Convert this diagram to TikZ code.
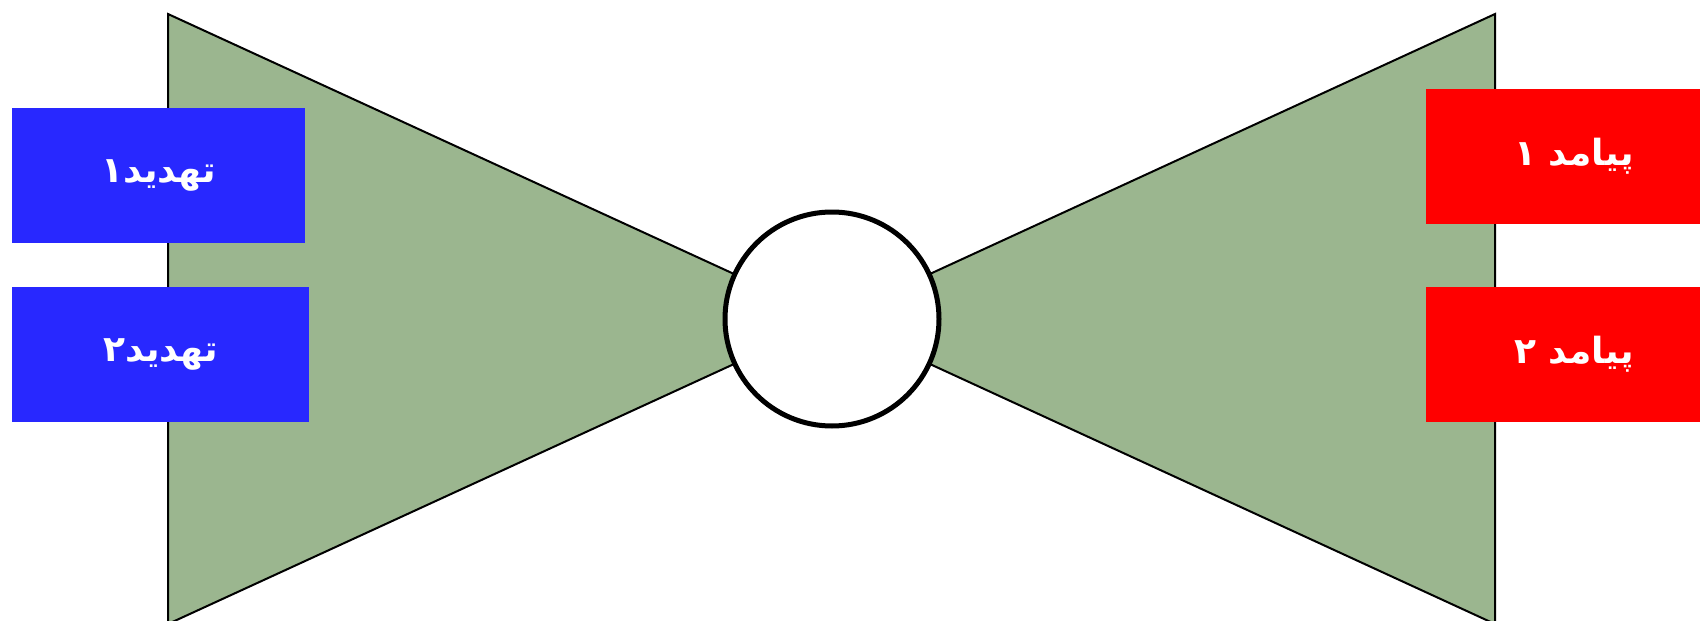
\documentclass[tikz,border=0pt]{standalone}
\usepackage{fontspec}
\TeXXeTstate=1
\newfontfamily\arabicfont[Script=Arabic]{DejaVu Sans}
\definecolor{bowgreen}{HTML}{9BB68F}
\definecolor{threatblue}{HTML}{2828FF}
\definecolor{consred}{HTML}{FF0000}
\tikzset{
  wing/.style={draw=black, line width=2pt, fill=bowgreen, line join=miter},
  threatbox/.style={fill=threatblue, text=white, minimum width=293pt, minimum height=135pt, inner sep=0pt, font=\arabicfont\bfseries\fontsize{36}{42}\selectfont},
  consbox/.style={fill=consred, text=white, minimum width=296pt, minimum height=135pt, inner sep=0pt, font=\arabicfont\bfseries\fontsize{36}{42}\selectfont},
  event/.style={circle, draw=black, line width=5pt, fill=white, minimum size=214pt, inner sep=0pt}
}
\begin{document}
\begin{tikzpicture}[x=1pt,y=-1pt]
\useasboundingbox (0,0) rectangle (1700,621);
\clip (0,0) rectangle (1700,621);
\coordinate (hub) at (832,319);
\coordinate (lt) at (168,14);
\coordinate (lb) at (168,624);
\coordinate (rt) at (1495,14);
\coordinate (rb) at (1495,624);
\draw[wing] (lt) -- (hub) -- (lb) -- cycle;
\draw[wing] (rt) -- (hub) -- (rb) -- cycle;
\node[event] (c) at (hub) {};
\node[threatbox] (t1) at (158.5,175.5) {\beginR تهدید۱\endR};
\node[threatbox, minimum width=297pt] (t2) at (160.5,354.5) {\beginR تهدید۲\endR};
\node[consbox] (p1) at (1574,156.5) {\beginR پیامد ۱\endR};
\node[consbox] (p2) at (1574,354.5) {\beginR پیامد ۲\endR};
\end{tikzpicture}
\end{document}
